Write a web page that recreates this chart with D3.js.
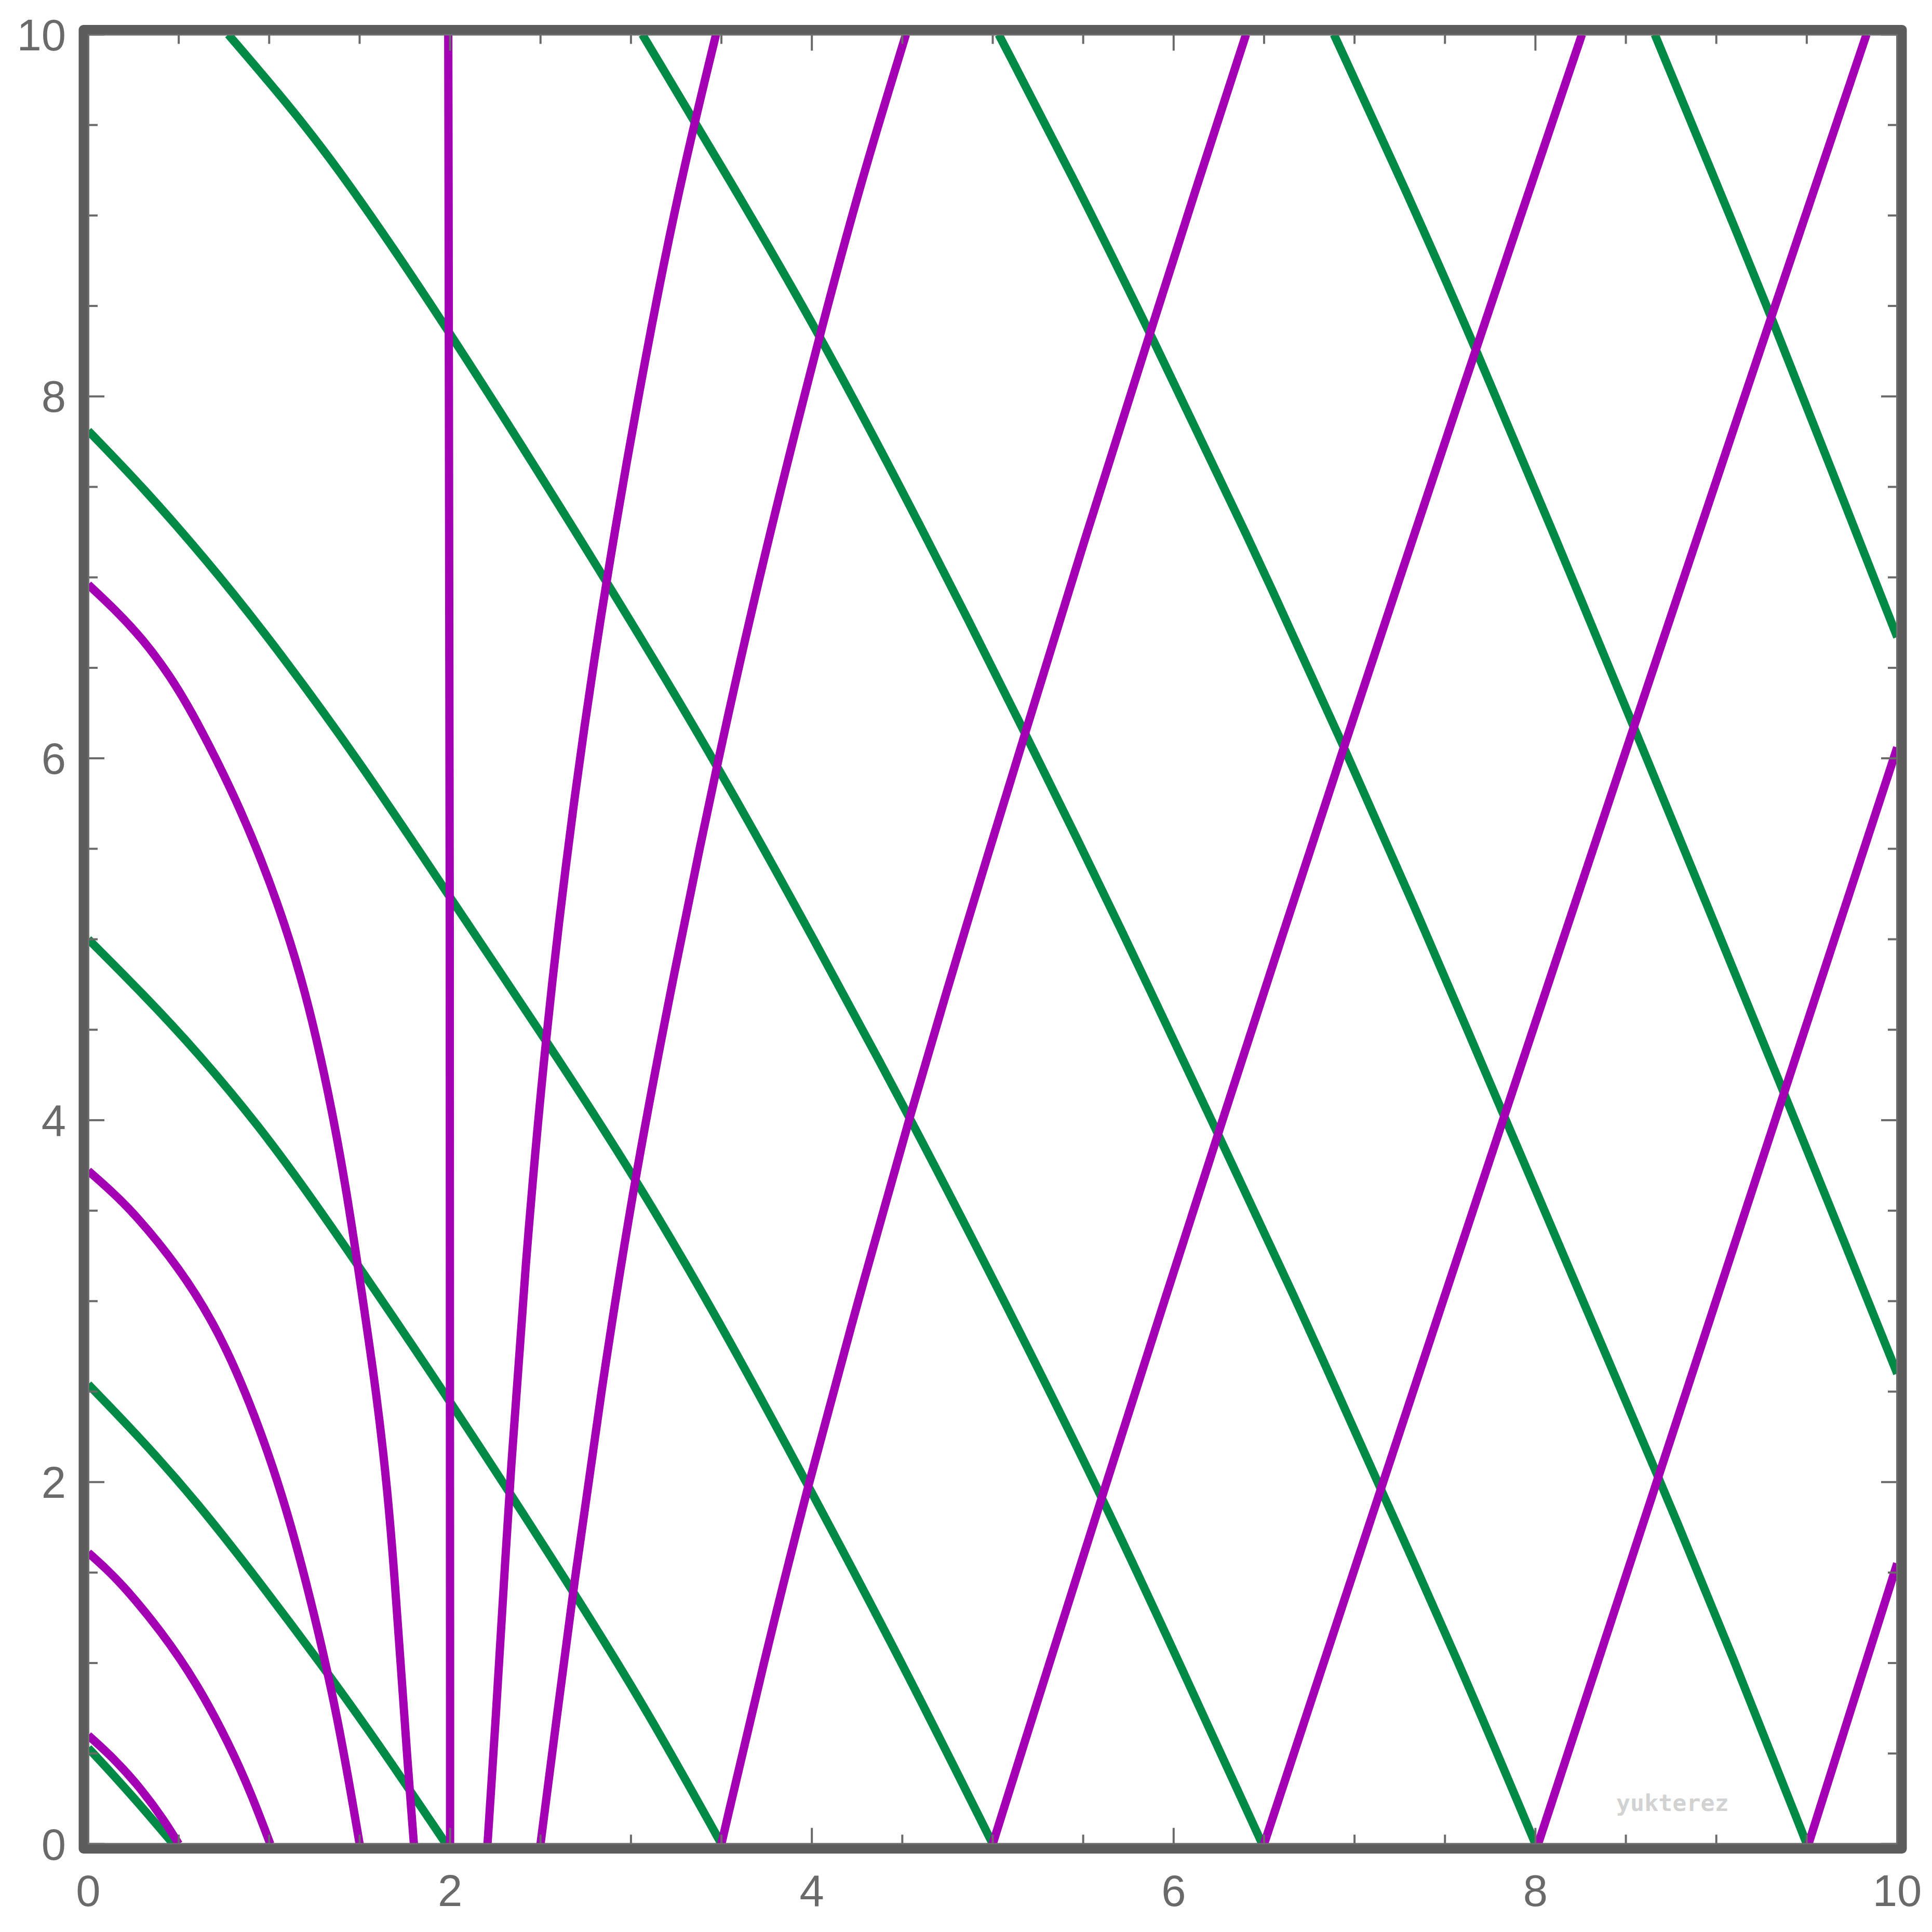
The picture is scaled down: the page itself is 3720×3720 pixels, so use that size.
<!DOCTYPE html>
<html><head><meta charset="utf-8">
<script src="https://cdn.jsdelivr.net/npm/d3@7"></script>
<style>html,body{margin:0;padding:0;background:#fff}</style>
</head><body>
<svg id="chart" width="3720" height="3720" xmlns="http://www.w3.org/2000/svg"></svg>
<script>
// ---- tick values ----
const xTickLabels = [0, 2, 4, 6, 8, 10];
const yTickLabels = [0, 2, 4, 6, 8, 10];
const minorTicks = [0.5, 1, 1.5, 2.5, 3, 3.5, 4.5, 5, 5.5, 6.5, 7, 7.5, 8.5, 9, 9.5];
const majorTicks = [0, 2, 4, 6, 8, 10];

// ---- green curves (x, y) ----
const greenA = [[0,0.53],[0.14,0.38],[0.30,0.20],[0.47,0]];
const greenB = [[0,2.54],[0.30,2.23],[0.60,1.89],[0.93,1.47],[1.294,0.985],[1.60,0.56],[1.978,0]];
const greenC = [[0,5.0],[0.30,4.70],[0.60,4.38],[0.95,3.96],[1.22,3.59],[1.49,3.20],[2.0,2.45],[2.68,1.40],[3.1,0.72],[3.5,0]];
const greenD = [[0,7.81],[0.30,7.50],[0.65,7.10],[1.0,6.665],[1.5,5.984],[2.0,5.23],[2.525,4.45],[3.02,3.69],[3.5,2.87],[3.975,1.99],[4.5,1.0],[5.0,0]];
const greenE = [[0.774,10],[1.1,9.62],[1.4,9.24],[2.0,8.36],[2.86,6.99],[3.475,5.97],[4.0,5.02],[4.54,4.02],[5.05,3.03],[5.60,1.93],[6.05,0.96],[6.49,0]];
const greenF = [[3.063,10],[3.55,9.19],[4.04,8.35],[4.6,7.29],[5.18,6.14],[5.7,5.08],[6.242,3.93],[6.7,2.96],[7.145,1.96],[7.57,1.02],[8.0,0]];
const greenG = [[5.033,10],[5.45,9.2],[5.87,8.35],[6.4,7.25],[6.94,6.07],[7.38,5.07],[7.82,4.04],[8.25,3.03],[8.68,2.03],[9.09,1.04],[9.5,0]];
const greenH = [[6.886,10],[7.28,9.15],[7.677,8.25],[8.11,7.22],[8.55,6.16],[8.96,5.16],[9.375,4.15],[9.69,3.37],[10,2.6]];
const greenI = [[8.66,10],[9.0,9.18],[9.305,8.44],[9.65,7.56],[10,6.67]];

// ---- magenta curves (x, y) ----
const magentaA = [[0,0.60],[0.15,0.465],[0.30,0.295],[0.42,0.13],[0.50,0]];
const magentaB = [[0,1.61],[0.1,1.52],[0.2,1.42],[0.4,1.18],[0.6,0.89],[0.78,0.55],[0.9,0.28],[1.006,0]];
const magentaC = [[0,3.72],[0.125,3.61],[0.25,3.49],[0.5,3.19],[0.72,2.84],[0.92,2.38],[1.1,1.85],[1.25,1.27],[1.38,0.70],[1.5,0]];
const magentaD = [[0,6.96],[0.15,6.82],[0.30,6.66],[0.45,6.46],[0.6,6.21],[0.85,5.71],[1.05,5.2],[1.2,4.72],[1.33,4.15],[1.43,3.60],[1.51,3.06],[1.595,2.48],[1.655,1.95],[1.695,1.45],[1.73,0.95],[1.765,0.45],[1.80,0]];
const magentaE = [[2.0,0],[2.0,5.0],[1.99,10]];
const magentaF = [[2.207,0],[2.255,0.73],[2.298,1.45],[2.33,1.98],[2.415,3.2],[2.525,4.44],[2.672,5.7],[2.86,6.99],[3.13,8.5],[3.3,9.3],[3.47,10]];
const magentaG = [[2.50,0],[2.59,0.7],[2.68,1.40],[2.834,2.5],[3.02,3.68],[3.235,4.8],[3.475,5.97],[3.73,7.1],[4.04,8.33],[4.275,9.2],[4.52,10]];
const magentaH = [[3.5,0],[3.73,0.99],[3.975,1.97],[4.255,3.0],[4.54,4.02],[4.86,5.1],[5.18,6.14],[5.52,7.25],[5.87,8.35],[6.13,9.17],[6.40,10]];
const magentaI = [[5.0,0],[5.313,1],[5.63,2],[5.948,3],[6.27,4],[6.594,5],[6.921,6],[7.251,7],[7.584,8],[7.919,9],[8.257,10]];
const magentaJ = [[6.5,0],[6.829,1],[7.158,2],[7.489,3],[7.82,4],[8.153,5],[8.486,6],[8.821,7],[9.156,8],[9.493,9],[9.83,10]];
const magentaK = [[8.015,0],[8.343,1],[8.67,2],[8.998,3],[9.325,4],[9.653,5],[10,6.06]];
const magentaL = [[9.51,0],[9.74,0.73],[10,1.55]];

const greenSeries = [greenA, greenB, greenC, greenD, greenE, greenF, greenG, greenH, greenI];
const magentaSeries = [magentaA, magentaB, magentaC, magentaD, magentaE, magentaF, magentaG, magentaH, magentaI, magentaJ, magentaK, magentaL];

// ---- drawing ----
const svg = d3.select('#chart');
svg.append('rect').attr('width', 3720).attr('height', 3720).attr('fill', '#ffffff');

const x = d3.scaleLinear().domain([0, 10]).range([170, 3653]);
const y = d3.scaleLinear().domain([0, 10]).range([3550.5, 66.5]);

const GREEN = '#008a45';
const MAGENTA = '#a300b4';
const FRAME = '#5c5c5c';
const TICK = '#6a6a6a';
const LABEL = '#6a6a6a';

svg.append('defs').append('clipPath').attr('id', 'plotclip')
  .append('rect')
  .attr('x', x(0)).attr('y', y(10))
  .attr('width', x(10) - x(0)).attr('height', y(0) - y(10));

const line = d3.line()
  .x(d => x(d[0])).y(d => y(d[1]))
  .curve(d3.curveBasis);

const curves = svg.append('g').attr('clip-path', 'url(#plotclip)');
curves.selectAll('path.green').data(greenSeries).enter().append('path')
  .attr('class', 'green').attr('d', line)
  .attr('fill', 'none').attr('stroke', GREEN).attr('stroke-width', 16);
curves.selectAll('path.magenta').data(magentaSeries).enter().append('path')
  .attr('class', 'magenta').attr('d', line)
  .attr('fill', 'none').attr('stroke', MAGENTA).attr('stroke-width', 16);

// ticks (inward on all four sides)
const tickG = svg.append('g').attr('stroke', TICK).attr('stroke-width', 4);
function drawTicks(vals, len) {
  vals.forEach(v => {
    tickG.append('line').attr('x1', x(v)).attr('x2', x(v)).attr('y1', y(0)).attr('y2', y(0) - len);
    tickG.append('line').attr('x1', x(v)).attr('x2', x(v)).attr('y1', y(10)).attr('y2', y(10) + len);
    tickG.append('line').attr('y1', y(v)).attr('y2', y(v)).attr('x1', x(0)).attr('x2', x(0) + len);
    tickG.append('line').attr('y1', y(v)).attr('y2', y(v)).attr('x1', x(10)).attr('x2', x(10) - len);
  });
}
drawTicks(minorTicks, 18);
drawTicks(majorTicks, 31);

// frame
svg.append('rect')
  .attr('x', x(0) - 9.25).attr('y', y(10) - 9.25)
  .attr('width', x(10) - x(0) + 18.5).attr('height', y(0) - y(10) + 18.5)
  .attr('fill', 'none').attr('stroke', FRAME).attr('stroke-width', 18.5)
  .attr('stroke-linejoin', 'round');
svg.append('rect')
  .attr('x', x(0) + 0.5).attr('y', y(10) + 0.5)
  .attr('width', x(10) - x(0) - 1).attr('height', y(0) - y(10) - 1)
  .attr('fill', 'none').attr('stroke', '#6e6e6e').attr('stroke-width', 3);

// tick labels
const labG = svg.append('g').attr('fill', LABEL)
  .attr('font-family', "'Liberation Sans', Arial, sans-serif").attr('font-size', 85);
labG.selectAll('text.xl').data(xTickLabels).enter().append('text')
  .attr('class', 'xl').attr('x', d => x(d)).attr('y', 3670)
  .attr('text-anchor', 'middle').text(d => d);
labG.selectAll('text.yl').data(yTickLabels).enter().append('text')
  .attr('class', 'yl').attr('x', 127).attr('y', d => y(d) + 30)
  .attr('text-anchor', 'end').text(d => d);

// watermark
svg.append('text').attr('x', 3112).attr('y', 3487)
  .attr('font-family', "'DejaVu Sans Mono', monospace").attr('font-weight', 'bold')
  .attr('font-size', 45).attr('fill', '#d2d2d2').text('yukterez');
</script>
</body></html>
